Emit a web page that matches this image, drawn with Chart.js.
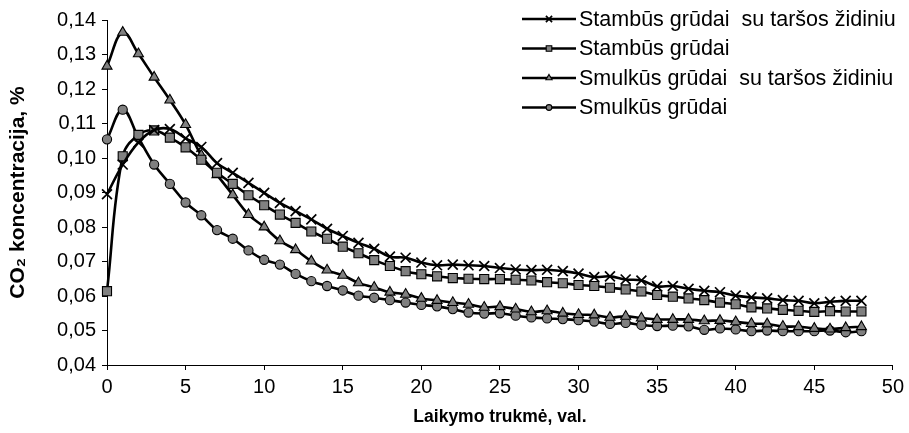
<!DOCTYPE html>
<html>
<head>
<meta charset="utf-8">
<script src="https://cdn.jsdelivr.net/npm/chart.js@4.4.1/dist/chart.umd.min.js"></script>
<style>
  html, body { margin: 0; padding: 0; background: #fff; }
  #co2Chart { display: block; }
</style>
</head>
<body>
<canvas id="co2Chart" width="909" height="433"></canvas>
<script>
// CO2 concentration over storage time, hourly readings 0..48 h
const hours = Array.from({ length: 49 }, (_, i) => i);

const stambusSuZidiniu = [
  0.0895, 0.0981, 0.1045, 0.1081, 0.1084, 0.1057, 0.1032, 0.0985, 0.0957, 0.0928,
  0.0899, 0.0870, 0.0846, 0.0822, 0.0795, 0.0774, 0.0754, 0.0737, 0.0714, 0.0711,
  0.0697, 0.0689, 0.0691, 0.0689, 0.0687, 0.0681, 0.0677, 0.0675, 0.0676, 0.0672,
  0.0665, 0.0655, 0.0657, 0.0648, 0.0645, 0.0628, 0.0629, 0.0621, 0.0615, 0.0611,
  0.0601, 0.0596, 0.0593, 0.0588, 0.0586, 0.0579, 0.0583, 0.0586, 0.0586
];
const stambus = [
  0.0614, 0.1005, 0.1067, 0.1080, 0.1059, 0.1031, 0.0995, 0.0957, 0.0925, 0.0892,
  0.0863, 0.0836, 0.0812, 0.0787, 0.0766, 0.0743, 0.0724, 0.0704, 0.0687, 0.0672,
  0.0663, 0.0657, 0.0652, 0.0650, 0.0649, 0.0649, 0.0647, 0.0645, 0.0640, 0.0637,
  0.0632, 0.0629, 0.0624, 0.0619, 0.0613, 0.0603, 0.0598, 0.0593, 0.0588, 0.0581,
  0.0576, 0.0567, 0.0564, 0.0560, 0.0557, 0.0554, 0.0556, 0.0555, 0.0555
];
const smulkusSuZidiniu = [
  0.1266, 0.1364, 0.1302, 0.1234, 0.1168, 0.1097, 0.1008, 0.0951, 0.0893, 0.0836,
  0.0800, 0.0760, 0.0734, 0.0701, 0.0675, 0.0660, 0.0638, 0.0625, 0.0611, 0.0605,
  0.0593, 0.0587, 0.0581, 0.0576, 0.0567, 0.0569, 0.0562, 0.0554, 0.0557, 0.0550,
  0.0546, 0.0545, 0.0538, 0.0541, 0.0536, 0.0532, 0.0532, 0.0532, 0.0528, 0.0529,
  0.0525, 0.0520, 0.0519, 0.0512, 0.0511, 0.0506, 0.0504, 0.0508, 0.0511
];
const smulkus = [
  0.1054, 0.1140, 0.1059, 0.0981, 0.0925, 0.0871, 0.0834, 0.0791, 0.0766, 0.0732,
  0.0705, 0.0691, 0.0664, 0.0643, 0.0629, 0.0616, 0.0601, 0.0595, 0.0588, 0.0581,
  0.0574, 0.0570, 0.0562, 0.0552, 0.0549, 0.0550, 0.0543, 0.0538, 0.0535, 0.0533,
  0.0530, 0.0526, 0.0519, 0.0522, 0.0516, 0.0513, 0.0514, 0.0512, 0.0502, 0.0506,
  0.0503, 0.0498, 0.0500, 0.0498, 0.0498, 0.0498, 0.0500, 0.0495, 0.0498
];

const seriesNames = [
  'Stambūs grūdai  su taršos židiniu',
  'Stambūs grūdai',
  'Smulkūs grūdai  su taršos židiniu',
  'Smulkūs grūdai'
];
const yTickLabels = ['0,04', '0,05', '0,06', '0,07', '0,08', '0,09', '0,10', '0,11', '0,12', '0,13', '0,14'];
const xTickLabels = ['0', '5', '10', '15', '20', '25', '30', '35', '40', '45', '50'];

const FONT = 'Arial, "Liberation Sans", sans-serif';
const GRAY = '#808080';

function series(label, values, style, radius) {
  return {
    label: label,
    data: hours.map((h, i) => ({ x: h, y: values[i] })),
    borderColor: '#000',
    borderWidth: 2.6,
    tension: 0.4,
    pointStyle: style,
    pointRadius: radius,
    pointHoverRadius: radius,
    pointBackgroundColor: GRAY,
    pointBorderColor: '#000',
    pointBorderWidth: style === 'crossRot' ? 1.7 : 1.1,
    clip: false,
    legendRadius: radius * 0.62
  };
}

// legend sits inside the plot, upper right
const insideLegend = {
  id: 'insideLegend',
  afterDraw(chart) {
    const ctx = chart.ctx;
    const x0 = 522, x1 = 576, rowY = 19, rowGap = 29.5;
    ctx.save();
    chart.data.datasets.forEach((ds, i) => {
      const y = rowY + i * rowGap;
      ctx.strokeStyle = '#000';
      ctx.lineWidth = 2.5;
      ctx.beginPath();
      ctx.moveTo(x0, y);
      ctx.lineTo(x1, y);
      ctx.stroke();
      ctx.fillStyle = GRAY;
      ctx.lineWidth = ds.pointBorderWidth;
      Chart.helpers.drawPoint(ctx, {
        pointStyle: ds.pointStyle,
        radius: ds.legendRadius,
        rotation: 0,
        borderWidth: ds.pointBorderWidth
      }, (x0 + x1) / 2, y);
      ctx.fillStyle = '#000';
      ctx.font = '21.5px ' + FONT;
      ctx.textBaseline = 'middle';
      ctx.textAlign = 'left';
      ctx.fillText(ds.label, x1 + 3, y + 1);
    });
    ctx.restore();
  }
};

const ctx = document.getElementById('co2Chart').getContext('2d');
new Chart(ctx, {
  type: 'line',
  data: {
    datasets: [
      series(seriesNames[0], stambusSuZidiniu, 'crossRot', 7),
      series(seriesNames[1], stambus, 'rect', 6.4),
      series(seriesNames[2], smulkusSuZidiniu, 'triangle', 5.8),
      series(seriesNames[3], smulkus, 'circle', 4.6)
    ]
  },
  options: {
    responsive: false,
    animation: false,
    events: [],
    layout: { padding: { top: 20, right: 15, bottom: 0, left: 0 } },
    plugins: {
      legend: { display: false },
      tooltip: { enabled: false }
    },
    scales: {
      x: {
        type: 'linear',
        min: 0,
        max: 50,
        afterFit: (scale) => { scale.height = 68; },
        ticks: {
          stepSize: 5,
          padding: 5,
          color: '#000',
          font: { family: FONT, size: 20 },
          maxRotation: 0,
          callback: (v, i) => xTickLabels[i]
        },
        grid: { drawOnChartArea: false, tickLength: 5, color: '#000', lineWidth: 1 },
        border: { color: '#000', width: 1 },
        title: {
          display: true,
          text: 'Laikymo trukmė, val.',
          color: '#000',
          font: { family: FONT, size: 17.5, weight: 'bold' },
          padding: { top: 0, bottom: 5 }
        }
      },
      y: {
        min: 0.04,
        max: 0.14,
        afterFit: (scale) => { scale.width = 107; },
        ticks: {
          stepSize: 0.01,
          padding: 6,
          color: '#000',
          font: { family: FONT, size: 20 },
          callback: (v, i) => yTickLabels[i]
        },
        grid: { drawOnChartArea: false, tickLength: 5, color: '#000', lineWidth: 1 },
        border: { color: '#000', width: 1 },
        title: {
          display: true,
          text: 'CO₂ koncentracija, %',
          color: '#000',
          font: { family: FONT, size: 21, weight: 'bold' },
          padding: { top: 6, bottom: 0 }
        }
      }
    }
  },
  plugins: [insideLegend]
});
</script>
</body>
</html>
